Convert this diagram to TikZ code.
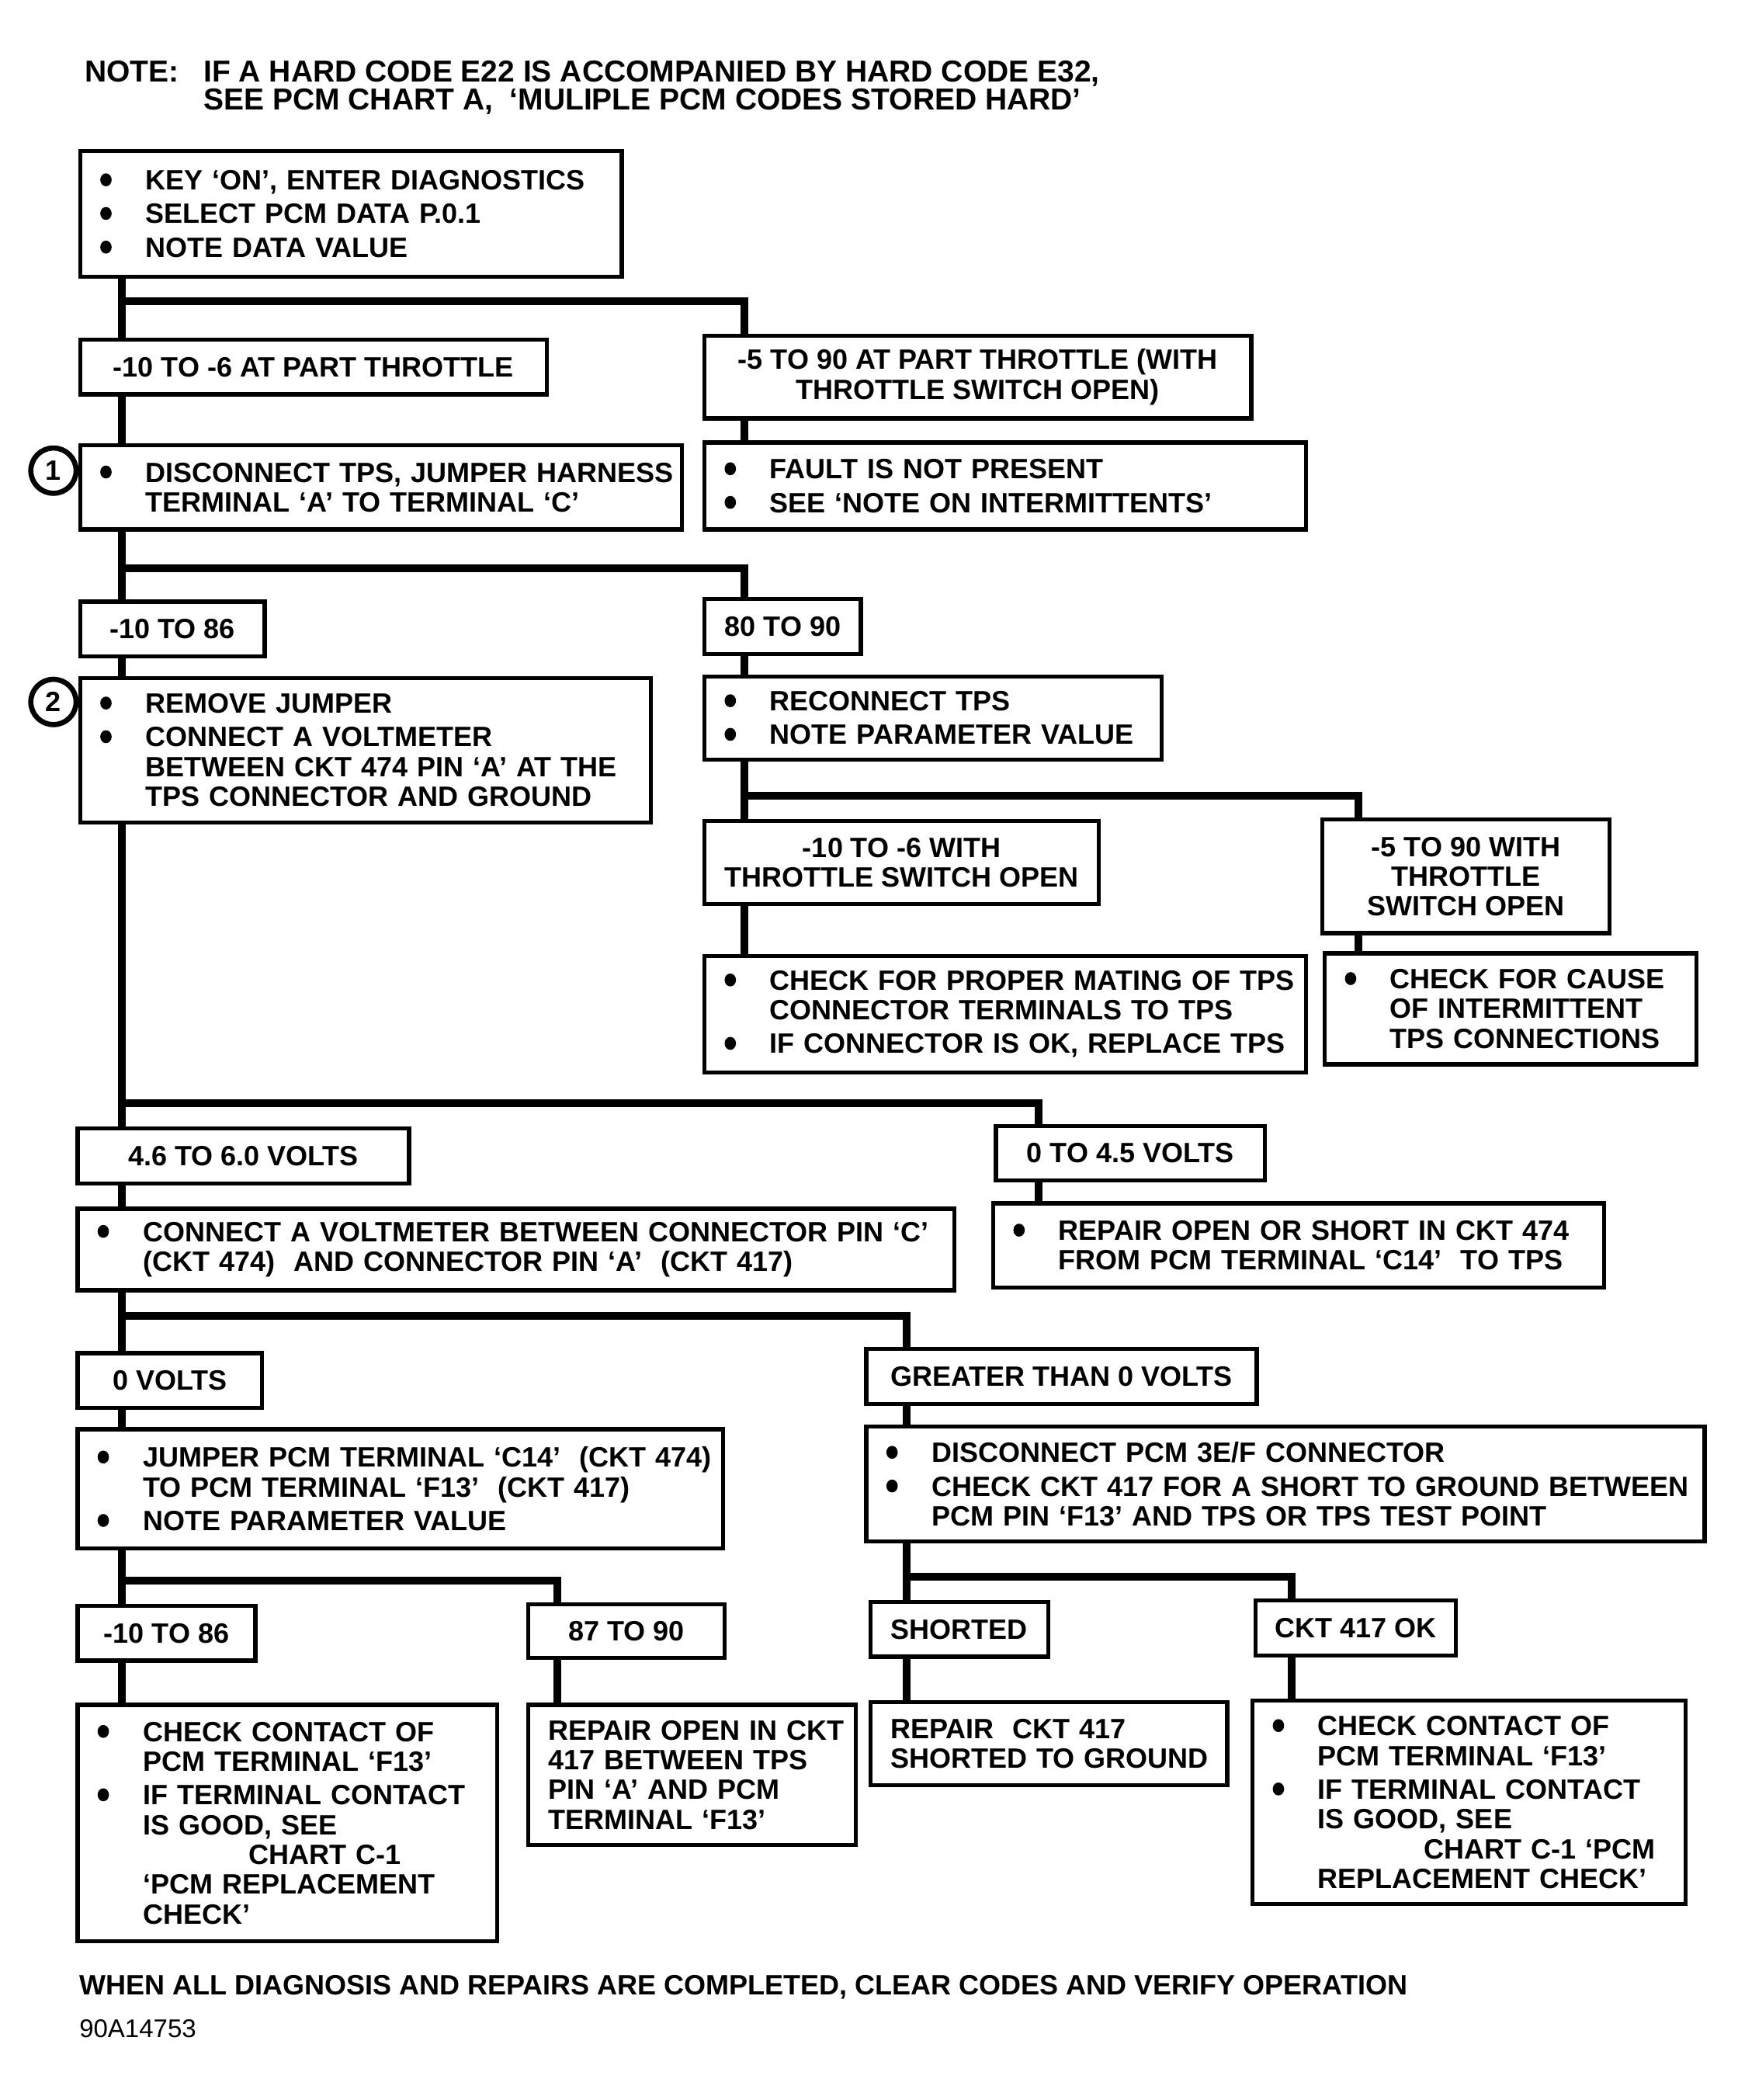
\documentclass[tikz,border=0pt]{standalone}
\usepackage{graphicx}
\usepackage{fontspec}
\setmainfont{Liberation Sans}
\usetikzlibrary{calc}
\newlength{\bulw}\setlength{\bulw}{17.5pt}
\newcommand{\bodyfont}{\fontsize{10.8}{11.5}\selectfont\bfseries}
\newcommand{\notefont}{\fontsize{11.7}{14}\selectfont\bfseries}
\newcommand{\footfont}{\fontsize{10.8}{12}\selectfont\bfseries}
\newcommand{\codefont}{\fontsize{9.9}{12}\selectfont}
\newcommand{\bdot}{\tikz[baseline=0pt]\fill (2.4pt,3.9pt) ellipse[x radius=2.2pt, y radius=2.5pt];}
\newcommand{\bl}[1]{\makebox[\bulw][l]{\bdot}\mbox{#1}}
\newcommand{\cl}[1]{\hspace*{\bulw}\mbox{#1}}
\newcommand{\il}[1]{\hspace*{\bulw}\hspace*{41pt}\mbox{#1}}
\newcommand{\pl}[1]{\mbox{#1}}
\tikzset{
  bx/.style={draw, line width=1.6pt, inner ysep=0pt, font=\bodyfont},
  conn/.style={line width=3pt, line join=miter},
  num/.style={draw, circle, line width=2pt, minimum size=17.5pt, inner sep=0pt, font=\bodyfont},
  txt/.style={anchor=base west, inner sep=0pt}
}
\newcommand{\cbox}[6]{%
  \pgfmathsetmacro\bw{(#4-#2)*0.51667}%
  \pgfmathsetmacro\bh{(#5-#3)*0.51667}%
  \node[bx, align=center, inner xsep=0pt, minimum width=\bw pt, minimum height=\bh pt] (#1) at ({(#2+#4)/2},{(#3+#5)/2}) {#6};}
\newcommand{\lbox}[6]{%
  \pgfmathsetmacro\bw{(#4-#2)*0.51667}%
  \pgfmathsetmacro\bh{(#5-#3)*0.51667}%
  \pgfmathsetmacro\tw{\bw-15.5}%
  \node[bx, align=left, inner xsep=7.75pt, text width=\tw pt, minimum width=\bw pt, minimum height=\bh pt] (#1) at ({(#2+#4)/2},{(#3+#5)/2}) {#6};}
\begin{document}
\begin{tikzpicture}[x=0.51667pt, y=-0.51667pt]
\useasboundingbox (0,0) rectangle (1300,1570.6);
% note
\node[txt, font=\notefont] (notelbl) at (63,61) {NOTE:};
\node[txt, font=\notefont] (note1) at (152,61) {IF A HARD CODE E22 IS ACCOMPANIED BY HARD CODE E32,};
\node[txt, font=\notefont] (note2) at (152,82) {SEE PCM CHART A,\ \ ‘MULIPLE PCM CODES STORED HARD’};
% boxes
\lbox{A}{60}{113}{465}{207}{\bl{KEY ‘ON’, ENTER DIAGNOSTICS}\\[1.5pt]\bl{SELECT PCM DATA P.0.1}\\[1.5pt]\bl{NOTE DATA VALUE}}
\cbox{B}{60}{254}{409}{295}{-10 TO -6 AT PART THROTTLE}
\cbox{C}{527}{251}{936}{313}{-5 TO 90 AT PART THROTTLE (WITH\\THROTTLE SWITCH OPEN)}
\lbox{D}{60}{333}{510}{396}{\bl{DISCONNECT TPS, JUMPER HARNESS}\\\cl{TERMINAL ‘A’ TO TERMINAL ‘C’}}
\lbox{E}{527}{331}{977}{396}{\bl{FAULT IS NOT PRESENT}\\[1.5pt]\bl{SEE ‘NOTE ON INTERMITTENTS’}}
\node[num] (n1) at (40,352) {1};
\cbox{F}{60}{450}{198}{491}{-10 TO 86}
\cbox{G}{527}{448}{644}{489}{80 TO 90}
\lbox{H}{60}{507}{487}{615}{\bl{REMOVE JUMPER}\\[1.5pt]\bl{CONNECT A VOLTMETER}\\\cl{BETWEEN CKT 474 PIN ‘A’ AT THE}\\\cl{TPS CONNECTOR AND GROUND}}
\node[num] (n2) at (40,525) {2};
\lbox{I}{527}{506}{869}{568}{\bl{RECONNECT TPS}\\[1.5pt]\bl{NOTE PARAMETER VALUE}}
\cbox{J}{527}{614}{822}{676}{-10 TO -6 WITH\\THROTTLE SWITCH OPEN}
\cbox{K}{989}{613}{1204}{698}{-5 TO 90 WITH\\THROTTLE\\SWITCH OPEN}
\lbox{L}{527}{715}{977}{802}{\bl{CHECK FOR PROPER MATING OF TPS}\\\cl{CONNECTOR TERMINALS TO TPS}\\[1.5pt]\bl{IF CONNECTOR IS OK, REPLACE TPS}}
\lbox{M}{991}{713}{1269}{796}{\bl{CHECK FOR CAUSE}\\\cl{OF INTERMITTENT}\\\cl{TPS CONNECTIONS}}
\cbox{N}{58}{844}{306}{885}{4.6 TO 6.0 VOLTS}
\cbox{O}{745}{842}{946}{883}{0 TO 4.5 VOLTS}
\lbox{P}{58}{904}{714}{965}{\bl{CONNECT A VOLTMETER BETWEEN CONNECTOR PIN ‘C’}\\\cl{(CKT 474)\ \ AND CONNECTOR PIN ‘A’\ \ (CKT 417)}}
\lbox{Q}{743}{900}{1200}{963}{\bl{REPAIR OPEN OR SHORT IN CKT 474}\\\cl{FROM PCM TERMINAL ‘C14’\ \ TO TPS}}
\cbox{R}{58}{1012}{196}{1053}{0 VOLTS}
\cbox{S}{648}{1009}{940}{1050}{GREATER THAN 0 VOLTS}
\lbox{T}{58}{1069}{541}{1158}{\bl{JUMPER PCM TERMINAL ‘C14’\ \ (CKT 474)}\\\cl{TO PCM TERMINAL ‘F13’\ \ (CKT 417)}\\[1.5pt]\bl{NOTE PARAMETER VALUE}}
\lbox{U}{648}{1067}{1275}{1153}{\bl{DISCONNECT PCM 3E/F CONNECTOR}\\[1.5pt]\bl{CHECK CKT 417 FOR A SHORT TO GROUND BETWEEN}\\\cl{PCM PIN ‘F13’ AND TPS OR TPS TEST POINT}}
\cbox{V}{58}{1201}{191}{1242}{-10 TO 86}
\cbox{W}{395}{1200}{542}{1240}{87 TO 90}
\cbox{X}{651}{1198}{784}{1239}{SHORTED}
\cbox{Y}{939}{1197}{1089}{1238}{CKT 417 OK}
\lbox{Z1}{58}{1275}{372}{1452}{\bl{CHECK CONTACT OF}\\\cl{PCM TERMINAL ‘F13’}\\[1.5pt]\bl{IF TERMINAL CONTACT}\\\cl{IS GOOD, SEE}\\\il{CHART C-1}\\\cl{‘PCM REPLACEMENT}\\\cl{CHECK’}}
\lbox{Z2}{395}{1275}{640}{1380}{\pl{REPAIR OPEN IN CKT}\\\pl{417 BETWEEN TPS}\\\pl{PIN ‘A’ AND PCM}\\\pl{TERMINAL ‘F13’}}
\lbox{Z3}{651}{1273}{918}{1335}{\pl{REPAIR\ \ CKT 417}\\\pl{SHORTED TO GROUND}}
\lbox{Z4}{937}{1272}{1261}{1424}{\bl{CHECK CONTACT OF}\\\cl{PCM TERMINAL ‘F13’}\\[1.5pt]\bl{IF TERMINAL CONTACT}\\\cl{IS GOOD, SEE}\\\il{CHART C-1 ‘PCM}\\\cl{REPLACEMENT CHECK’}}
% footer
\node[txt, font=\footfont] (foot) at (59,1492) {WHEN ALL DIAGNOSIS AND REPAIRS ARE COMPLETED, CLEAR CODES AND VERIFY OPERATION};
\node[txt, font=\codefont] (code) at (59,1524) {90A14753};
% junction coordinates
\coordinate (j1) at (91,225);   \coordinate (k1) at (557,225);
\coordinate (j2) at (91,425);   \coordinate (k2) at (557,425);
\coordinate (j3) at (557,595);  \coordinate (k3) at (1016,595);
\coordinate (j4) at (91,825);   \coordinate (k4) at (777,825);
\coordinate (j5) at (91,984);   \coordinate (k5) at (678,984);
\coordinate (j6) at (91,1182);  \coordinate (k6) at (417,1182);
\coordinate (j7) at (678,1179); \coordinate (k7) at (966,1179);
% connectors
\draw[conn] (A.south -| j1) -- (B.north -| j1);
\draw[conn] (j1) -- (k1) -- (C.north -| k1);
\draw[conn] (B.south -| j1) -- (D.north -| j1);
\draw[conn] (C.south -| k1) -- (E.north -| k1);
\draw[conn] (D.south -| j2) -- (F.north -| j2);
\draw[conn] (j2) -- (k2) -- (G.north -| k2);
\draw[conn] (F.south -| j2) -- (H.north -| j2);
\draw[conn] (G.south -| k2) -- (I.north -| k2);
\draw[conn] (I.south -| j3) -- (J.north -| j3);
\draw[conn] (j3) -- (k3) -- (K.north -| k3);
\draw[conn] (J.south -| j3) -- (L.north -| j3);
\draw[conn] (K.south -| k3) -- (M.north -| k3);
\draw[conn] (H.south -| j4) -- (N.north -| j4);
\draw[conn] (j4) -- (k4) -- (O.north -| k4);
\draw[conn] (N.south -| j4) -- (P.north -| j4);
\draw[conn] (O.south -| k4) -- (Q.north -| k4);
\draw[conn] (P.south -| j5) -- (R.north -| j5);
\draw[conn] (j5) -- (k5) -- (S.north -| k5);
\draw[conn] (R.south -| j5) -- (T.north -| j5);
\draw[conn] (S.south -| k5) -- (U.north -| k5);
\draw[conn] (T.south -| j6) -- (V.north -| j6);
\draw[conn] (j6) -- (k6) -- (W.north -| k6);
\draw[conn] (U.south -| j7) -- (X.north -| j7);
\draw[conn] (j7) -- (k7) -- (Y.north -| k7);
\draw[conn] (V.south -| j6) -- (Z1.north -| j6);
\draw[conn] (W.south -| k6) -- (Z2.north -| k6);
\draw[conn] (X.south -| j7) -- (Z3.north -| j7);
\draw[conn] (Y.south -| k7) -- (Z4.north -| k7);
\end{tikzpicture}
\end{document}
